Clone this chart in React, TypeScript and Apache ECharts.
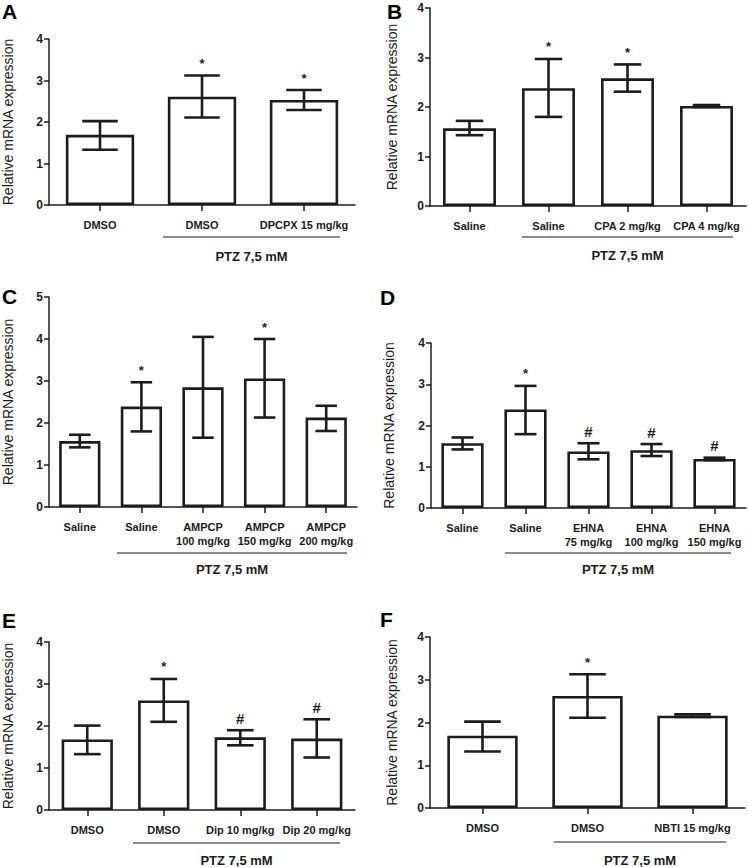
import React, { useEffect, useRef } from "react";
import * as echarts from "echarts";

// ---------- DATA ----------
const catsA = ["DMSO", "DMSO", "DPCPX 15 mg/kg"];
const meanA = [1.69, 2.61, 2.53];
const lowA = [1.33, 2.11, 2.29];
const highA = [2.02, 3.12, 2.77];
const markA = ["", "*", "*"];

const catsB = ["Saline", "Saline", "CPA 2 mg/kg", "CPA 4 mg/kg"];
const meanB = [1.57, 2.38, 2.58, 2.02];
const lowB = [1.43, 1.8, 2.31, 2.0];
const highB = [1.72, 2.97, 2.86, 2.04];
const markB = ["", "*", "*", ""];

const catsC = ["Saline", "Saline", "AMPCP\n100 mg/kg", "AMPCP\n150 mg/kg", "AMPCP\n200 mg/kg"];
const meanC = [1.57, 2.39, 2.85, 3.06, 2.13];
const lowC = [1.42, 1.8, 1.65, 2.13, 1.81];
const highC = [1.72, 2.97, 4.05, 4.0, 2.41];
const markC = ["", "*", "", "*", ""];

const catsD = ["Saline", "Saline", "EHNA\n75 mg/kg", "EHNA\n100 mg/kg", "EHNA\n150 mg/kg"];
const meanD = [1.57, 2.39, 1.37, 1.4, 1.19];
const lowD = [1.42, 1.79, 1.18, 1.26, 1.16];
const highD = [1.71, 2.96, 1.57, 1.55, 1.22];
const markD = ["", "*", "#", "#", "#"];

const catsE = ["DMSO", "DMSO", "Dip 10 mg/kg", "Dip 20 mg/kg"];
const meanE = [1.68, 2.61, 1.73, 1.7];
const lowE = [1.33, 2.1, 1.54, 1.25];
const highE = [2.01, 3.12, 1.9, 2.16];
const markE = ["", "*", "#", "#"];

const catsF = ["DMSO", "DMSO", "NBTI 15 mg/kg"];
const meanF = [1.69, 2.62, 2.16];
const lowF = [1.32, 2.11, 2.13];
const highF = [2.02, 3.13, 2.19];
const markF = ["", "*", ""];

const yMaxes = [4, 4, 5, 4, 4, 4];
const panelLetters = ["A", "B", "C", "D", "E", "F"];
const groupLabel = "PTZ 7,5 mM";
const yTitle = "Relative mRNA expression";

// ---------- LAYOUT ----------
const layout = [
  { left: 42, top: 39, width: 313, height: 166, gap: 34, letter: [2, 1], line: [163, 340, 237], text: 256 },
  { left: 430, top: 8, width: 316, height: 198, gap: 31, letter: [387, 1], line: [522, 733, 237], text: 255 },
  { left: 42, top: 297, width: 315, height: 210, gap: 34, letter: [2, 286], line: [117, 347, 553], text: 569 },
  { left: 431, top: 343, width: 315, height: 165, gap: 35, letter: [380, 287], line: [505, 731, 553], text: 569 },
  { left: 42, top: 642, width: 313, height: 168, gap: 34, letter: [2, 610], line: [133, 340, 843], text: 860 },
  { left: 430, top: 637, width: 315, height: 171, gap: 31, letter: [380, 609], line: [554, 726, 842], text: 860 },
];

const INK = "#1c1c1c";
const FONT = "'Liberation Sans', Arial, Helvetica, sans-serif";
const BAR_FRAC = 0.67;

const panels = [
  { cats: catsA, mean: meanA, low: lowA, high: highA, mark: markA },
  { cats: catsB, mean: meanB, low: lowB, high: highB, mark: markB },
  { cats: catsC, mean: meanC, low: lowC, high: highC, mark: markC },
  { cats: catsD, mean: meanD, low: lowD, high: highD, mark: markD },
  { cats: catsE, mean: meanE, low: lowE, high: highE, mark: markE },
  { cats: catsF, mean: meanF, low: lowF, high: highF, mark: markF },
];

function buildOption() {
  const grid: any[] = [];
  const xAxis: any[] = [];
  const yAxis: any[] = [];
  const series: any[] = [];
  const graphic: any[] = [];

  panels.forEach((p, i) => {
    const L = layout[i];
    grid.push({ left: L.left, top: L.top, width: L.width, height: L.height, containLabel: false });
    xAxis.push({
      type: "category",
      gridIndex: i,
      data: p.cats,
      axisLine: { show: true, lineStyle: { color: INK, width: 1.5 } },
      axisTick: { show: true, alignWithLabel: true, length: 6, lineStyle: { color: INK, width: 1.5 } },
      axisLabel: {
        color: INK,
        fontFamily: FONT,
        fontWeight: "bold",
        fontSize: 11,
        lineHeight: 14,
        margin: 13,
        interval: 0,
      },
      splitLine: { show: false },
    });
    yAxis.push({
      type: "value",
      gridIndex: i,
      min: 0,
      max: yMaxes[i],
      interval: 1,
      name: yTitle,
      nameLocation: "middle",
      nameGap: L.gap,
      nameTextStyle: { color: INK, fontFamily: FONT, fontSize: 14 },
      axisLine: { show: true, lineStyle: { color: INK, width: 1.5 } },
      axisTick: { show: true, length: 5, lineStyle: { color: INK, width: 1.5 } },
      axisLabel: { color: INK, fontFamily: FONT, fontWeight: "bold", fontSize: 12, margin: 6 },
      splitLine: { show: false },
    });
    series.push({
      type: "bar",
      xAxisIndex: i,
      yAxisIndex: i,
      data: p.mean,
      barWidth: BAR_FRAC * 100 + "%",
      itemStyle: { color: "#ffffff", borderColor: INK, borderWidth: 2.6 },
      silent: true,
      z: 2,
    });
    const errData = p.cats.map((_, k) => [k, p.low[k], p.high[k]]);
    series.push({
      type: "custom",
      xAxisIndex: i,
      yAxisIndex: i,
      data: errData,
      z: 5,
      silent: true,
      renderItem: (params: any, api: any) => {
        const k = api.value(0);
        const lo = api.coord([k, api.value(1)]);
        const hi = api.coord([k, api.value(2)]);
        const band = api.size([1, 0])[0];
        const half = band * BAR_FRAC * 0.26;
        const x = lo[0];
        const st = { stroke: INK, lineWidth: 2.6 };
        const children: any[] = [
          { type: "line", shape: { x1: x, y1: lo[1], x2: x, y2: hi[1] }, style: st },
          { type: "line", shape: { x1: x - half, y1: lo[1], x2: x + half, y2: lo[1] }, style: st },
          { type: "line", shape: { x1: x - half, y1: hi[1], x2: x + half, y2: hi[1] }, style: st },
        ];
        const m = p.mark[params.dataIndex];
        if (m) {
          const isStar = m === "*";
          children.push({
            type: "text",
            style: {
              text: m,
              x: x,
              y: hi[1] - (isStar ? 12 : 12),
              align: "center",
              verticalAlign: "middle",
              fill: INK,
              fontFamily: FONT,
              fontWeight: "bold",
              fontSize: isStar ? 13 : 15,
            },
          });
        }
        return { type: "group", children };
      },
    });

    graphic.push({
      type: "text",
      left: L.letter[0],
      top: L.letter[1],
      style: { text: panelLetters[i], fill: "#000", fontFamily: FONT, fontWeight: "bold", fontSize: 21 },
    });
    graphic.push({
      type: "line",
      shape: { x1: L.line[0], y1: L.line[2], x2: L.line[1], y2: L.line[2] },
      style: { stroke: INK, lineWidth: 1.2 },
    });
    graphic.push({
      type: "text",
      x: (L.line[0] + L.line[1]) / 2,
      y: L.text,
      style: {
        text: groupLabel,
        align: "center",
        verticalAlign: "middle",
        fill: INK,
        fontFamily: FONT,
        fontWeight: "bold",
        fontSize: 13,
      },
    });
  });

  return { animation: false, backgroundColor: "#ffffff", grid, xAxis, yAxis, series, graphic };
}

export default function App() {
  const ref = useRef<HTMLDivElement>(null);
  useEffect(() => {
    if (!ref.current) return;
    const chart = echarts.init(ref.current, undefined, { renderer: "svg" });
    chart.setOption(buildOption() as any);
    return () => chart.dispose();
  }, []);
  return (
    <div
      ref={ref}
      style={{ position: "fixed", left: 0, top: 0, width: 748, height: 867, background: "#fff" }}
    />
  );
}
